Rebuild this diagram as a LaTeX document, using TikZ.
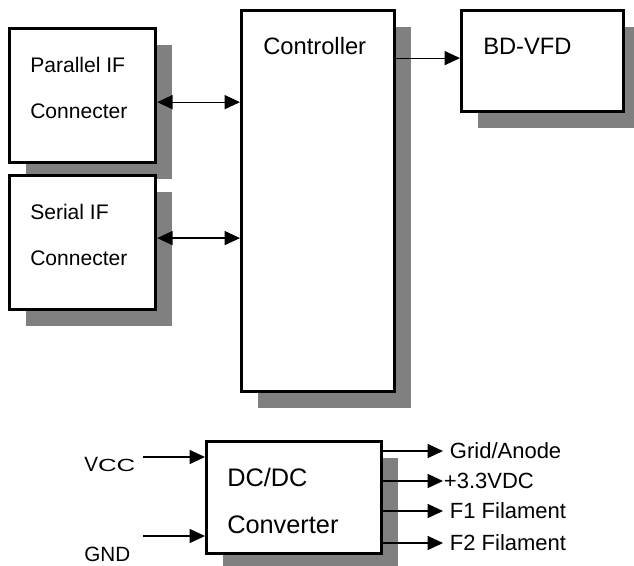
\documentclass[tikz,border=0pt]{standalone}
\usepackage{fontspec}
\setmainfont{Liberation Sans}
\usetikzlibrary{
  arrows.meta,
  positioning,
  shadows
}
\definecolor{shade}{gray}{0.5}

\begin{document}
\begin{tikzpicture}[
  x=0.75pt, y=-0.75pt,
  box/.style={draw, line width=2.4pt, fill=white, inner sep=0pt, anchor=north west,
    drop shadow={shadow xshift=12pt, shadow yshift=-12pt, fill=shade, opacity=1}},
  txt/.style={inner sep=0pt, anchor=base west},
  small/.style={font=\fontsize{15.8}{18}\selectfont},
  mid/.style={font=\fontsize{17.8}{20}\selectfont},
  big/.style={font=\fontsize{19}{22}\selectfont},
  outlbl/.style={inner xsep=5pt, inner ysep=0pt, anchor=west, text height=11.8pt, text depth=0pt,
    font=\fontsize{16.5}{18}\selectfont},
  arrow/.style={-{Triangle[length=11.5pt, width=10.5pt]}, line width=0.9pt},
  both/.style={{Triangle[length=11.5pt, width=10.5pt]}-{Triangle[length=11.5pt, width=10.5pt]}, line width=0.9pt}
]
\useasboundingbox (0,0) rectangle (634,565);
\clip (0,0) rectangle (634,565);

\node[box, minimum width=109.5pt, minimum height=100.5pt] (par) at (8,27) {};
\node[txt, small] (par1) at ([shift={(22,45)}]par.north west) {Parallel IF};
\node[txt, small] (par2) at ([shift={(22,91)}]par.north west) {Connecter};

\node[box, minimum width=109.5pt, minimum height=100.5pt] (ser) at (8,174) {};
\node[txt, small] (ser1) at ([shift={(22,45)}]ser.north west) {Serial IF};
\node[txt, small] (ser2) at ([shift={(22,91)}]ser.north west) {Connecter};

\node[box, minimum width=114.75pt, minimum height=285.75pt] (ctrl) at (240,9) {};
\node[txt, mid] (ctrl1) at ([shift={(23,45)}]ctrl.north west) {Controller};

\node[box, minimum width=121.5pt, minimum height=75.75pt] (vfd) at (460,9) {};
\node[txt, mid] (vfd1) at ([shift={(23,45)}]vfd.north west) {BD-VFD};

\node[box, minimum width=131.25pt, minimum height=84pt] (dcdc) at (205,440) {};
\node[txt, big] (dc1) at ([shift={(22,46)}]dcdc.north west) {DC/DC};
\node[txt, big] (dc2) at ([shift={(22,93)}]dcdc.north west) {Converter};

\coordinate (p1) at ([yshift=-4.9pt]par.east);
\coordinate (s1) at ([yshift=3.4pt]ser.east);
\coordinate (v1) at ([yshift=2.25pt]vfd.west);
\draw[both] (p1) -- (p1 -| ctrl.west);
\draw[both] (s1) -- (s1 -| ctrl.west);
\draw[arrow] (v1 -| ctrl.east) -- (v1);

\node[txt, font=\fontsize{15.5}{18}\selectfont] (vcc) at ([shift={(-121,31)}]dcdc.north west) {V\scalebox{1.25}[0.85]{CC}};
\node[txt, font=\fontsize{15.5}{18}\selectfont] (gnd) at ([shift={(-121,121)}]dcdc.north west) {GND};
\coordinate (vccin) at ([shift={(-62,17)}]dcdc.north west);
\coordinate (gndin) at ([shift={(-62,96)}]dcdc.north west);
\draw[arrow] (vccin) -- (vccin -| dcdc.west);
\draw[arrow] (gndin) -- (gndin -| dcdc.west);

\node[outlbl] (grid) at (443,451) {Grid/Anode};
\node[outlbl, inner xsep=0.5pt] (v33) at (443,481) {+3.3VDC};
\node[outlbl] (fil1) at (443,511) {F1 Filament};
\node[outlbl] (fil2) at (443,543) {F2 Filament};
\draw[arrow] (dcdc.east |- grid.west) -- (grid.west);
\draw[arrow] (dcdc.east |- v33.west) -- (v33.west);
\draw[arrow] (dcdc.east |- fil1.west) -- (fil1.west);
\draw[arrow] (dcdc.east |- fil2.west) -- (fil2.west);
\end{tikzpicture}
\end{document}
